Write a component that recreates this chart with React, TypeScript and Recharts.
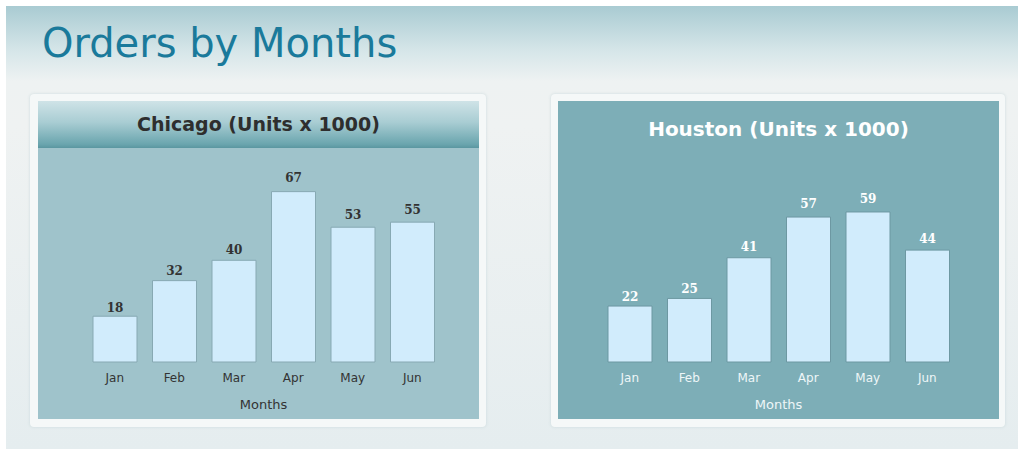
import { Bar, BarChart, Label, LabelList, XAxis, YAxis } from "recharts";

const months = ["Jan", "Feb", "Mar", "Apr", "May", "Jun"];
const chicagoUnits = [18, 32, 40, 67, 53, 55];
const houstonUnits = [22, 25, 41, 57, 59, 44];

const toRows = (values: number[]) =>
  months.map((name, i) => ({ name, units: values[i] }));

const sans = "'DejaVu Sans', Verdana, sans-serif";

function valueLabel(color: string) {
  return (props: any) => {
    const { x, y, width, height, value } = props;
    const off = 2 + 0.047 * height;
    return (
      <text
        x={x + width / 2}
        y={y - off}
        textAnchor="middle"
        fill={color}
        fontFamily="'DejaVu Serif', Georgia, serif"
        fontWeight="bold"
        fontSize={12}
      >
        {value}
      </text>
    );
  };
}

function CityChart({
  values,
  left,
  right,
  text,
  labelColor,
  stroke,
}: {
  values: number[];
  left: number;
  right: number;
  text: string;
  labelColor: string;
  stroke: string;
}) {
  return (
    <BarChart
      width={441}
      height={271}
      data={toRows(values)}
      margin={{ top: 36, right, bottom: 0, left }}
      barCategoryGap={0}
    >
      <XAxis
        dataKey="name"
        axisLine={false}
        tickLine={false}
        height={57}
        tick={{ fill: text, fontSize: 12, fontFamily: sans, dy: 3 }}
      >
        <Label
          value="Months"
          position="insideBottom"
          offset={10}
          fill={text}
          fontSize={13}
          fontFamily={sans}
        />
      </XAxis>
      <YAxis hide domain={[0, 70]} />
      <Bar
        dataKey="units"
        barSize={44}
        fill="#d1ecfc"
        stroke={stroke}
        strokeWidth={1}
        isAnimationActive={false}
      >
        <LabelList dataKey="units" content={valueLabel(labelColor)} />
      </Bar>
    </BarChart>
  );
}

export default function App() {
  return (
    <div
      style={{
        position: "absolute",
        left: 0,
        top: 0,
        width: 1021,
        height: 451,
        background: "#ffffff",
        fontFamily: sans,
      }}
    >
      <div
        style={{
          position: "absolute",
          left: 6,
          top: 6,
          width: 1012,
          height: 443,
          background:
            "linear-gradient(180deg, #a9cbd2 0px, #d6e6e9 45px, #eef2f2 75px, #eff2f2 120px, #e5edef 443px)",
        }}
      />
      <div
        style={{
          position: "absolute",
          left: 42,
          top: 20,
          fontSize: 40,
          color: "#1a7a9b",
          whiteSpace: "nowrap",
        }}
      >
        Orders by Months
      </div>

      {/* Chicago */}
      <div
        style={{
          position: "absolute",
          left: 30,
          top: 94,
          width: 456,
          height: 333,
          background: "#f5f8f8",
          borderRadius: 4,
          boxShadow: "0 0 3px rgba(200,215,218,0.9)",
        }}
      />
      <div
        style={{
          position: "absolute",
          left: 38,
          top: 101,
          width: 441,
          height: 318,
          background: "#9fc3cb",
        }}
      >
        <div
          style={{
            position: "absolute",
            left: 0,
            top: 0,
            width: 441,
            height: 47,
            background:
              "linear-gradient(180deg, #cfe3e7 0%, #a9cdd3 45%, #6aa5ae 92%, #5a96a0 100%)",
            color: "#2e2e2e",
            fontWeight: "bold",
            fontSize: 19,
            lineHeight: "47px",
            textAlign: "center",
          }}
        >
          Chicago (Units x 1000)
        </div>
        <div style={{ position: "absolute", left: 0, top: 47 }}>
          <CityChart
            values={chicagoUnits}
            left={47}
            right={37}
            text="#333333"
            labelColor="#333333"
            stroke="#87a9b3"
          />
        </div>
      </div>

      {/* Houston */}
      <div
        style={{
          position: "absolute",
          left: 551,
          top: 94,
          width: 454,
          height: 333,
          background: "#f5f8f8",
          borderRadius: 4,
          boxShadow: "0 0 3px rgba(200,215,218,0.9)",
        }}
      />
      <div
        style={{
          position: "absolute",
          left: 558,
          top: 101,
          width: 441,
          height: 318,
          background: "#7daeb7",
        }}
      >
        <div
          style={{
            position: "absolute",
            left: 0,
            top: 10,
            width: 441,
            height: 36,
            color: "#ffffff",
            fontWeight: "bold",
            fontSize: 20,
            lineHeight: "36px",
            textAlign: "center",
          }}
        >
          Houston (Units x 1000)
        </div>
        <div style={{ position: "absolute", left: 0, top: 47 }}>
          <CityChart
            values={houstonUnits}
            left={42}
            right={42}
            text="#eef6f8"
            labelColor="#ffffff"
            stroke="#6d98a2"
          />
        </div>
      </div>
    </div>
  );
}
